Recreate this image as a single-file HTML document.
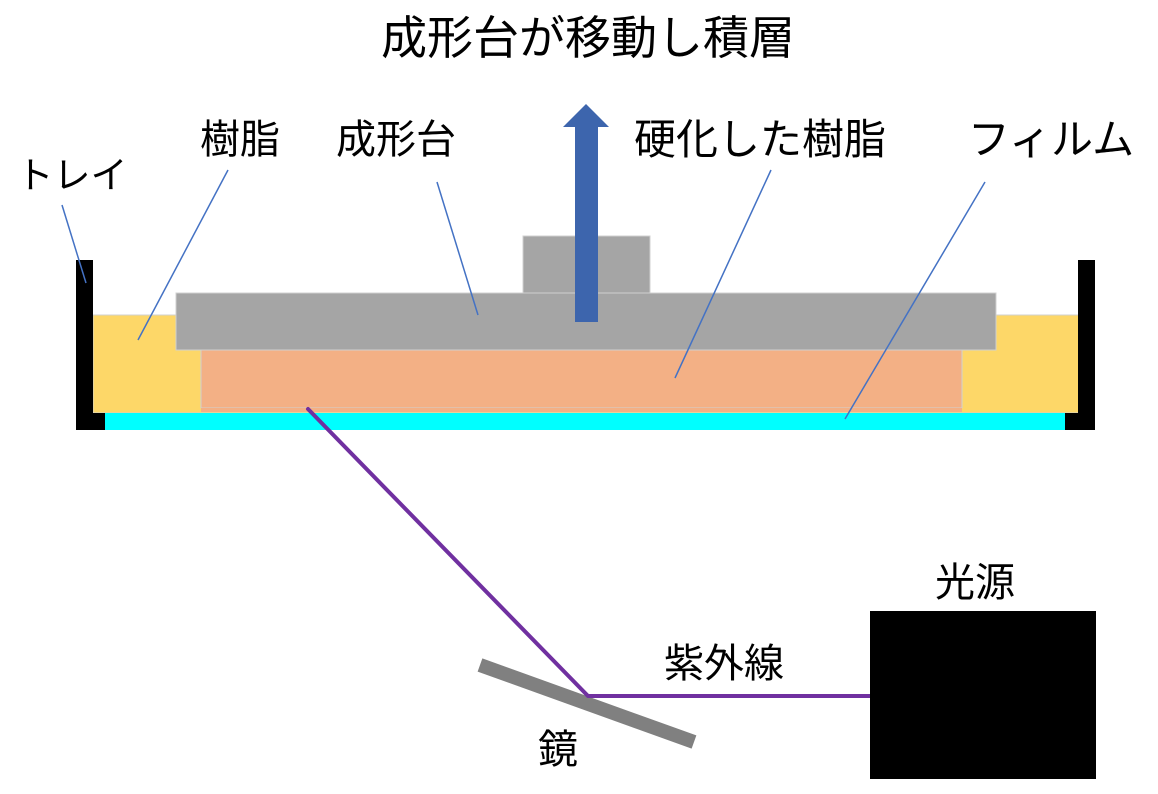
<!DOCTYPE html>
<html><head><meta charset="utf-8"><style>
html,body{margin:0;padding:0;background:#fff;}
svg{display:block;}
text{font-family:"Liberation Sans","Noto Sans CJK JP",sans-serif;fill:#000;}
</style></head><body>
<svg width="1158" height="794" viewBox="0 0 1158 794" xmlns="http://www.w3.org/2000/svg">
<text x="588" y="54" font-size="46" text-anchor="middle">成形台が移動し積層</text>
<text x="72" y="188" font-size="37" text-anchor="middle">トレイ</text>
<text x="240" y="153" font-size="40" text-anchor="middle">樹脂</text>
<text x="396" y="153" font-size="40" text-anchor="middle">成形台</text>
<text x="760" y="154" font-size="42" text-anchor="middle">硬化した樹脂</text>
<text x="1051" y="154" font-size="42" text-anchor="middle">フィルム</text>
<text x="975" y="596" font-size="40" text-anchor="middle">光源</text>
<text x="724" y="677" font-size="40" text-anchor="middle">紫外線</text>
<text x="558" y="763" font-size="40" text-anchor="middle">鏡</text>

<rect x="93" y="315" width="986" height="98" fill="#fdd768" stroke="#d0d0d0" stroke-width="1"/>
<rect x="201" y="350" width="761" height="58" fill="#f3b085" stroke="#d0d0d0" stroke-width="1"/>
<rect x="201" y="408" width="761" height="4" fill="#f3b085"/>
<rect x="523" y="236" width="127" height="57" fill="#a5a5a5" stroke="#d0d0d0" stroke-width="1"/>
<rect x="176" y="293" width="820" height="57" fill="#a5a5a5" stroke="#d0d0d0" stroke-width="1"/>
<polygon points="586,104 609,127 598,127 598,322 575,322 575,127 563,127" fill="#3d65ad"/>
<rect x="105" y="413" width="960" height="17" fill="#00ffff"/>
<path d="M76,260 H93 V413 H105 V430 H76 Z" fill="#000"/>
<path d="M1078,260 H1095 V430 H1065 V413 H1078 Z" fill="#000"/>
<g stroke="#4472c4" stroke-width="1.5">
<line x1="62" y1="205" x2="86" y2="283"/>
<line x1="228" y1="170" x2="138" y2="340"/>
<line x1="437" y1="182" x2="478" y2="315"/>
<line x1="771" y1="170" x2="675" y2="378"/>
<line x1="985" y1="182" x2="845" y2="419"/>
</g>
<line x1="480" y1="665" x2="694" y2="742" stroke="#808080" stroke-width="14"/>
<polyline points="308,409 588,696 872,696" fill="none" stroke="#7030a0" stroke-width="4" stroke-linejoin="round" stroke-linecap="round"/>
<rect x="870" y="611" width="226" height="168" fill="#000"/>
</svg>
</body></html>
